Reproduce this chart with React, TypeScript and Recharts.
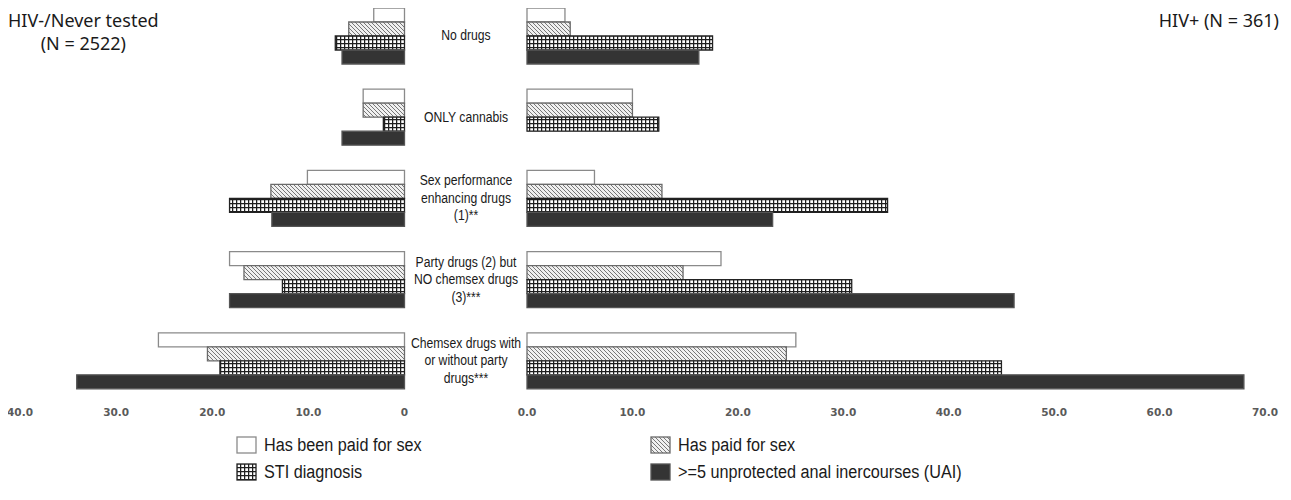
import React from "react";
import { BarChart, Bar, XAxis, YAxis } from "recharts";

// categories (middle labels, one entry per line)
const categories = [
  "No drugs",
  "ONLY cannabis",
  "Sex performance enhancing drugs (1)**",
  "Party drugs (2) but NO chemsex drugs (3)***",
  "Chemsex drugs with or without party drugs***",
];
const categoryLines = [
  ["No drugs"],
  ["ONLY cannabis"],
  ["Sex performance", "enhancing drugs", "(1)**"],
  ["Party drugs (2) but", "NO chemsex drugs", "(3)***"],
  ["Chemsex drugs with", "or without party", "drugs***"],
];

// HIV-/Never tested (N = 2522), %
const negBeenPaid = [3.2, 4.3, 10.1, 18.2, 25.6];
const negHasPaid = [5.8, 4.3, 13.9, 16.7, 20.5];
const negSti = [7.2, 2.2, 18.2, 12.7, 19.2];
const negUai = [6.5, 6.5, 13.8, 18.2, 34.1];

// HIV+ (N = 361), %
const posBeenPaid = [3.6, 10.0, 6.4, 18.4, 25.5];
const posHasPaid = [4.1, 10.0, 12.8, 14.8, 24.6];
const posSti = [17.6, 12.5, 34.2, 30.8, 45.0];
const posUai = [16.3, 0, 23.3, 46.2, 68.0];

const leftTicks = [0, 10, 20, 30, 40];
const rightTicks = [0, 10, 20, 30, 40, 50, 60, 70];

const seriesNames = [
  "Has been paid for sex",
  "Has paid for sex",
  "STI diagnosis",
  ">=5 unprotected anal inercourses (UAI)",
];

const leftRows = categories.map((cat, i) => ({
  cat,
  beenPaid: negBeenPaid[i],
  hasPaid: negHasPaid[i],
  sti: negSti[i],
  uai: negUai[i],
}));
const rightRows = categories.map((cat, i) => ({
  cat,
  beenPaid: posBeenPaid[i],
  hasPaid: posHasPaid[i],
  sti: posSti[i],
  uai: posUai[i],
}));

const tickStyle = {
  fontFamily: "DejaVu Sans",
  fontSize: 10.5,
  fontWeight: 700,
  fill: "#5a5a5a",
};
const labelFont = "'Liberation Sans', Arial, sans-serif";

const seriesStyle = [
  { key: "beenPaid", fill: "#ffffff", stroke: "#8a8a8a" },
  { key: "hasPaid", fill: "url(#hatchPat)", stroke: "#6a6a6a" },
  { key: "sti", fill: "url(#gridPat)", stroke: "#222222" },
  { key: "uai", fill: "#343434", stroke: "#555555" },
];

function CategoryTick(props: any) {
  const { y, payload } = props;
  const lines = categoryLines[payload.index] || [payload.value];
  const n = lines.length;
  return (
    <g>
      {lines.map((ln, k) => (
        <text
          key={k}
          transform={`translate(61, ${y + (k - (n - 1) / 2) * 17.5}) scale(0.87, 1)`}
          textAnchor="middle"
          dominantBaseline="central"
          fontFamily={labelFont}
          fontSize={14}
          fill="#1a1a1a"
        >
          {ln}
        </text>
      ))}
    </g>
  );
}

function LegendItem({ idx }: { idx: number }) {
  const s = seriesStyle[idx];
  return (
    <div style={{ display: "flex", alignItems: "center", height: 18 }}>
      <svg width={21} height={18} style={{ marginRight: 7, flex: "none" }}>
        <rect x={1} y={1} width={19} height={16} fill={s.fill} stroke={s.stroke} strokeWidth={1.3} />
      </svg>
      <span
        style={{
          fontFamily: labelFont,
          fontSize: 18,
          color: "#1a1a1a",
          display: "inline-block",
          transform: "scaleX(0.9)",
          transformOrigin: "left center",
          whiteSpace: "nowrap",
        }}
      >
        {seriesNames[idx]}
      </span>
    </div>
  );
}

export default function App() {
  return (
    <div style={{ position: "relative", width: 1291, height: 500, margin: -8, background: "#fff", overflow: "hidden" }}>
      <svg width={0} height={0} style={{ position: "absolute" }}>
        <defs>
          <pattern id="hatchPat" width={4} height={4} patternUnits="userSpaceOnUse">
            <rect width={4} height={4} fill="#f0f0f0" />
            <path d="M-1,-1 L5,5 M-1,3 L1,5 M3,-1 L5,1" stroke="#777777" strokeWidth={1} />
          </pattern>
          <pattern id="gridPat" width={4} height={4} patternUnits="userSpaceOnUse">
            <rect width={4} height={4} fill="#ffffff" />
            <path d="M0,0.6 H4 M0.6,0 V4" stroke="#1e1e1e" strokeWidth={1.3} />
          </pattern>
        </defs>
      </svg>

      <div
        style={{
          position: "absolute",
          left: 8,
          top: 9,
          fontFamily: "'Noto Sans', sans-serif",
          fontSize: 18,
          color: "#1a1a1a",
          textAlign: "center",
          lineHeight: "23px",
        }}
      >
        <div>HIV-/Never tested</div>
        <div>(N = 2522)</div>
      </div>
      <div
        style={{
          position: "absolute",
          right: 12,
          top: 9,
          fontFamily: "'Noto Sans', sans-serif",
          fontSize: 18,
          color: "#1a1a1a",
          lineHeight: "23px",
        }}
      >
        HIV+ (N = 361)
      </div>

      <div style={{ position: "absolute", left: 0, top: -5 }}>
        <BarChart
          layout="vertical"
          width={420}
          height={436}
          data={leftRows}
          margin={{ top: 0, right: 15.5, left: 20, bottom: 0 }}
          barGap={0}
          barCategoryGap={0}
        >
          <XAxis
            type="number"
            domain={[0, 40]}
            reversed
            ticks={leftTicks}
            interval={0}
            tickFormatter={(v: number) => (v === 0 ? "0" : v.toFixed(1))}
            axisLine={false}
            tickLine={false}
            tick={tickStyle}
            height={30}
          />
          <YAxis type="category" dataKey="cat" hide />
          {seriesStyle.map((s) => (
            <Bar key={s.key} dataKey={s.key} barSize={14} fill={s.fill} stroke={s.stroke} strokeWidth={1.3} isAnimationActive={false} />
          ))}
        </BarChart>
      </div>

      <div style={{ position: "absolute", left: 405, top: -5 }}>
        <BarChart
          layout="vertical"
          width={886}
          height={436}
          data={rightRows}
          margin={{ top: 0, right: 26, left: 0, bottom: 0 }}
          barGap={0}
          barCategoryGap={0}
        >
          <XAxis
            type="number"
            domain={[0, 70]}
            ticks={rightTicks}
            interval={0}
            tickFormatter={(v: number) => v.toFixed(1)}
            axisLine={false}
            tickLine={false}
            tick={tickStyle}
            height={30}
          />
          <YAxis type="category" dataKey="cat" width={122} axisLine={false} tickLine={false} tick={<CategoryTick />} interval={0} />
          {seriesStyle.map((s) => (
            <Bar key={s.key} dataKey={s.key} barSize={14} fill={s.fill} stroke={s.stroke} strokeWidth={1.3} isAnimationActive={false} />
          ))}
        </BarChart>
      </div>

      <div
        style={{
          position: "absolute",
          left: 236,
          top: 436,
          display: "grid",
          gridTemplateColumns: "414px auto",
          rowGap: 9,
        }}
      >
        <LegendItem idx={0} />
        <LegendItem idx={1} />
        <LegendItem idx={2} />
        <LegendItem idx={3} />
      </div>
    </div>
  );
}
